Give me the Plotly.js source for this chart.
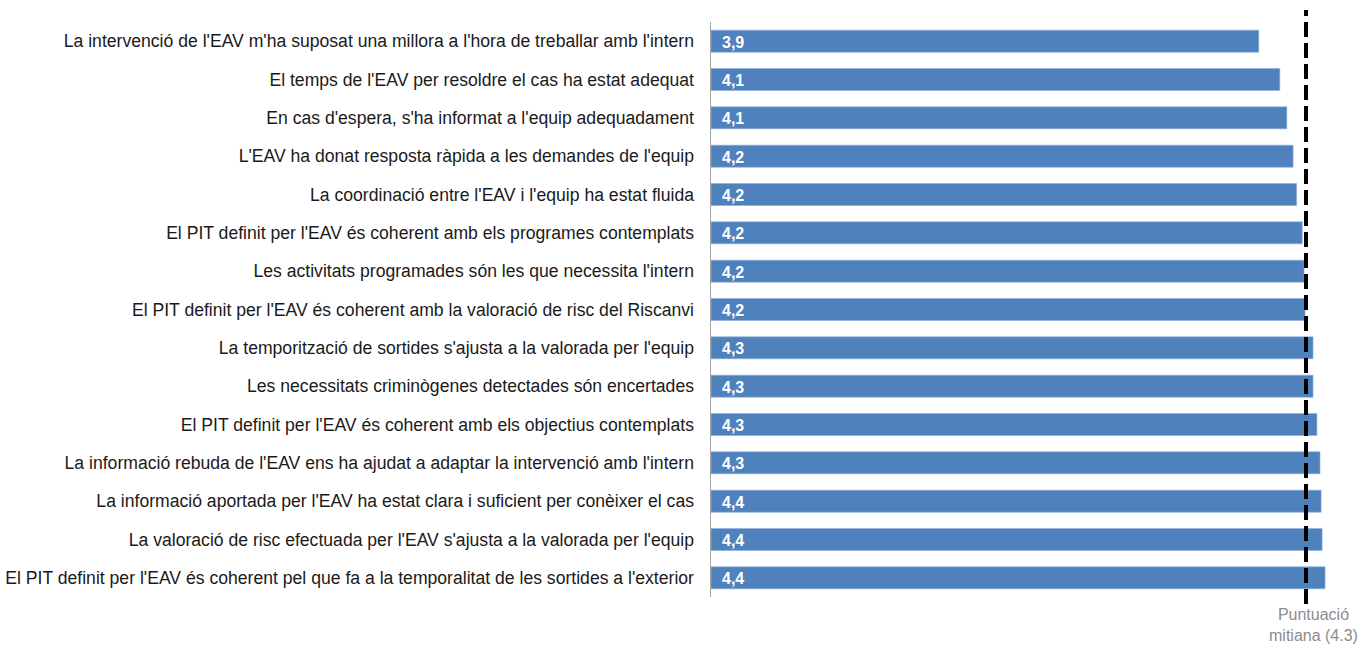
<!DOCTYPE html>
<html>
<head>
<meta charset="utf-8">
<script src="https://cdn.plot.ly/plotly-3.0.1.min.js"></script>
<style>html,body{margin:0;padding:0;background:#fff;}#chart{width:1360px;height:645px;}</style>
</head>
<body>
<div id="chart"></div>
<script>
const categories = [
  "La intervenció de l'EAV m'ha suposat una millora a l'hora de treballar amb l'intern",
  "El temps de l'EAV per resoldre el cas ha estat adequat",
  "En cas d'espera, s'ha informat a l'equip adequadament",
  "L'EAV ha donat resposta ràpida a les demandes de l'equip",
  "La coordinació entre l'EAV i l'equip ha estat fluida",
  "El PIT definit per l'EAV és coherent amb els programes contemplats",
  "Les activitats programades són les que necessita l'intern",
  "El PIT definit per l'EAV és coherent amb la valoració de risc del Riscanvi",
  "La temporització de sortides s'ajusta a la valorada per l'equip",
  "Les necessitats criminògenes detectades són encertades",
  "El PIT definit per l'EAV és coherent amb els objectius contemplats",
  "La informació rebuda de l'EAV ens ha ajudat a adaptar la intervenció amb l'intern",
  "La informació aportada per l'EAV ha estat clara i suficient per conèixer el cas",
  "La valoració de risc efectuada per l'EAV s'ajusta a la valorada per l'equip",
  "El PIT definit per l'EAV és coherent pel que fa a la temporalitat de les sortides a l'exterior"
];
const values = [3.91, 4.06, 4.11, 4.155, 4.18, 4.22, 4.233, 4.24, 4.297, 4.297, 4.325, 4.347, 4.355, 4.362, 4.383];
const valueLabels = ["3,9","4,1","4,1","4,2","4,2","4,2","4,2","4,2","4,3","4,3","4,3","4,3","4,4","4,4","4,4"];
const meanValue = 4.247;
const meanLabel = "Puntuació<br>mitiana (4.3)";

const trace = {
  type: 'bar',
  orientation: 'h',
  y: categories,
  x: values,
  width: 0.575,
  marker: {color: '#4f81bd', line: {color: '#8eaedb', width: 0.6}},
  hoverinfo: 'skip'
};

const annotations = categories.map((c, i) => ({
  x: 0, y: c, xref: 'x', yref: 'y',
  text: '<b>' + valueLabels[i] + '</b>',
  showarrow: false, xanchor: 'left', xshift: 9, yshift: -1,
  font: {family: 'Liberation Sans, Arial, sans-serif', size: 16, color: '#ffffff'}
}));
annotations.push({
  x: meanValue, y: 0, xref: 'x', yref: 'paper', yanchor: 'top', yshift: -7,
  text: meanLabel, showarrow: false, xanchor: 'center', xshift: 7,
  font: {family: 'Liberation Sans, Arial, sans-serif', size: 16, color: '#8c8c8c'}
});

const layout = {
  width: 1360, height: 645,
  margin: {l: 711, r: 10, t: 22, b: 48},
  paper_bgcolor: '#ffffff', plot_bgcolor: '#ffffff',
  showlegend: false,
  bargap: 0.425,
  xaxis: {range: [0, 639/140.1], showgrid: false, zeroline: false, showline: false, showticklabels: false, ticks: ''},
  yaxis: {
    autorange: 'reversed', showgrid: false, zeroline: false,
    showline: true, linecolor: '#a6a6a6', linewidth: 1.5,
    ticks: 'outside', ticklen: 12, tickcolor: 'rgba(0,0,0,0)',
    tickfont: {family: 'Liberation Sans, Arial, sans-serif', size: 17.6, color: '#1a1a1a'}
  },
  shapes: [{
    type: 'line', xref: 'x', yref: 'paper',
    x0: meanValue, x1: meanValue, y0: -0.012, y1: 1.021,
    line: {color: '#000000', width: 4, dash: '15px,6px'}
  }],
  annotations: annotations
};

Plotly.newPlot('chart', [trace], layout, {displayModeBar: false, staticPlot: true});
</script>
</body>
</html>
